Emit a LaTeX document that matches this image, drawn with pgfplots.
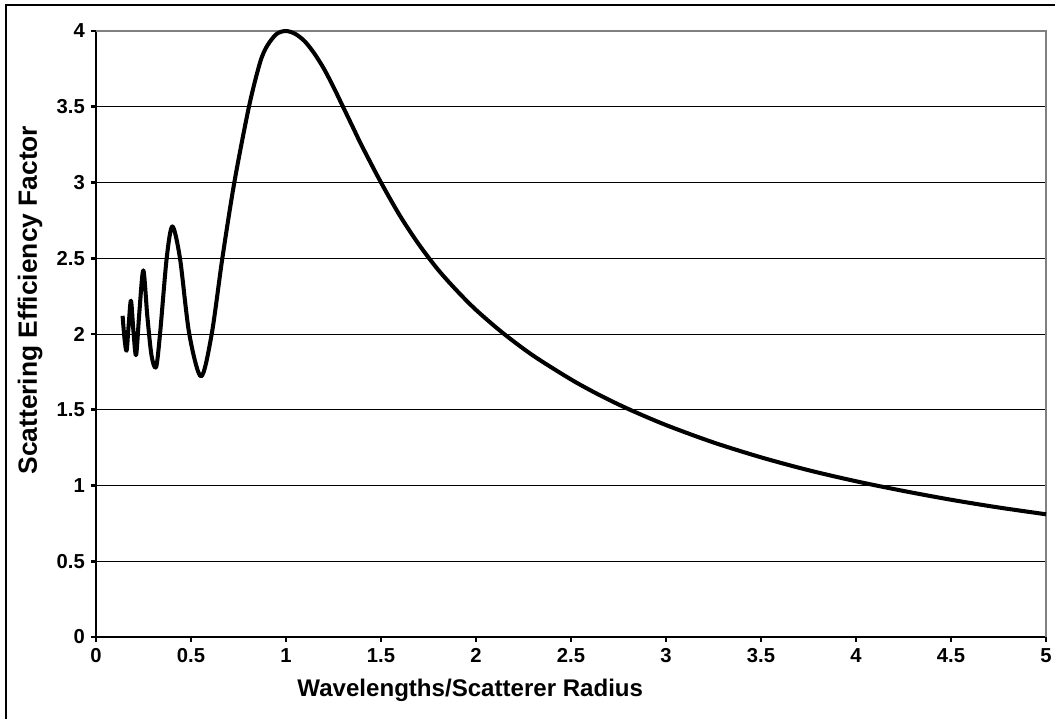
\documentclass[border=0pt]{standalone}
\usepackage{pgfplots}
\pgfplotsset{compat=1.18}
\usepackage{fontspec}
\setmainfont{Liberation Sans}

\begin{document}
\begin{tikzpicture}
\useasboundingbox (-19.2mm,-16.4mm) rectangle (191.8mm,127.4mm);
\clip (-19.2mm,-16.4mm) rectangle (191.8mm,127.4mm);
\draw[line width=1.1pt] (-18.0mm,-40mm) rectangle (250mm,126.4mm);
\begin{axis}[
    at={(0,0)}, anchor=south west,
    scale only axis, width=190mm, height=121.2mm,
    xmin=0, xmax=5, ymin=0, ymax=4,
    xtick={0,0.5,...,5}, ytick={0,0.5,...,4},
    axis lines*=left,
    axis line style={line width=1.7pt, -},
    ymajorgrids,
    grid style={black, line width=0.5pt},
    tick style={black, line width=1.7pt},
    tick align=outside, major tick length=1mm,
    tick label style={font=\bfseries\fontsize{11.5}{13}\selectfont},
    /pgf/number format/assume math mode=true,
    xlabel={Wavelengths/Scatterer Radius},
    ylabel={Scattering Efficiency Factor},
    xlabel style={font=\bfseries\fontsize{13.7}{16}\selectfont,
        at={([yshift=-10.6mm]axis description cs:0.394,0)}, anchor=center},
    ylabel style={font=\bfseries\fontsize{15}{18}\selectfont,
        at={([xshift=-13.2mm]axis description cs:0,0.556)}, anchor=center},
    clip=false,
]
\draw[gray, line width=0.6pt] (axis cs:0,4) -- (axis cs:5,4) -- (axis cs:5,0);
\addplot[black, line width=2.3pt, smooth, line join=round] coordinates {
    (0.140,2.12) (0.150,1.97) (0.161,1.89) (0.172,2.06) (0.184,2.22)
    (0.197,2.02) (0.211,1.86) (0.228,2.14) (0.249,2.42) (0.270,2.12)
    (0.292,1.86) (0.316,1.78) (0.337,2.00) (0.372,2.50) (0.402,2.71)
    (0.442,2.50) (0.491,2.00) (0.553,1.72) (0.609,2.00) (0.665,2.50)
    (0.728,3.00) (0.805,3.50) (0.863,3.79) (0.900,3.90) (0.950,3.98)
    (1.000,4.00) (1.050,3.98) (1.100,3.93) (1.150,3.85) (1.200,3.75)
    (1.250,3.63) (1.300,3.50) (1.350,3.37) (1.400,3.24) (1.500,3.00)
    (1.600,2.78) (1.700,2.59) (1.800,2.425) (1.900,2.285) (2.000,2.159)
    (2.140,2.008) (2.300,1.858) (2.500,1.700) (2.650,1.597) (2.800,1.506)
    (3.000,1.399) (3.250,1.284) (3.500,1.186) (3.750,1.101) (4.000,1.028)
    (4.250,0.964) (4.500,0.906) (4.750,0.855) (5.000,0.810)
};
\end{axis}
\end{tikzpicture}
\end{document}
